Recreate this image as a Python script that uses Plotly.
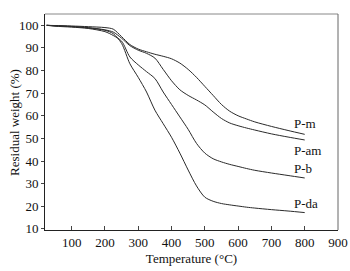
import plotly.graph_objects as go

temps = [25, 50, 100, 150, 200, 225, 250, 275, 300, 325, 350, 375, 400, 425, 450, 475, 500, 525, 550, 575, 600, 625, 650, 700, 750, 800]
p_m  = [100, 99.9, 99.7, 99.4, 99.0, 98.3, 95.0, 91.5, 89.5, 88.3, 87.2, 86.3, 85.2, 83.3, 80.5, 77.0, 73.0, 69.0, 65.0, 62.0, 60.0, 58.6, 57.3, 55.3, 53.5, 51.8]
p_am = [100, 99.8, 99.5, 99.0, 98.0, 97.0, 94.3, 91.0, 89.0, 87.6, 85.5, 80.5, 75.5, 71.5, 69.0, 67.0, 64.8, 61.7, 58.8, 56.8, 55.6, 54.6, 53.7, 52.0, 50.6, 49.3]
p_b  = [100, 99.6, 99.2, 98.6, 97.2, 95.5, 93.0, 86.0, 82.5, 79.5, 76.5, 70.5, 65.0, 59.5, 54.0, 47.8, 43.5, 41.0, 39.6, 38.5, 37.6, 36.7, 35.9, 34.7, 33.6, 32.5]
p_da = [100, 99.8, 99.4, 98.8, 97.8, 96.3, 92.0, 83.0, 77.0, 70.5, 62.5, 56.5, 50.5, 43.5, 36.0, 29.0, 24.0, 22.2, 21.2, 20.6, 20.1, 19.6, 19.2, 18.5, 17.9, 17.2]

series = [("P-m", p_m, 56.7), ("P-am", p_am, 44.7), ("P-b", p_b, 36.6), ("P-da", p_da, 21.2)]
label_x = 761

x_ticks = [100, 200, 300, 400, 500, 600, 700, 800, 900]
y_ticks = [10, 20, 30, 40, 50, 60, 70, 80, 90, 100]

FONT = "Liberation Serif, Times New Roman, serif"

fig = go.Figure()
for name, vals, ly in series:
    fig.add_trace(go.Scatter(x=temps, y=vals, mode="lines", name=name,
                             line=dict(color="#2a2a2a", width=1, shape="spline", smoothing=0.8)))
    fig.add_annotation(x=label_x, y=ly, text=name, showarrow=False, xanchor="left",
                       font=dict(family=FONT, size=13, color="#111"))

fig.add_annotation(xref="paper", yref="paper", x=-0.106, y=0.5, text="Residual weight (%)",
                   textangle=-90, showarrow=False, xanchor="center", yanchor="middle",
                   font=dict(family=FONT, size=13, color="#111"))

fig.update_layout(
    width=350, height=271,
    margin=dict(l=45, r=12, t=14, b=41),
    paper_bgcolor="white", plot_bgcolor="white",
    showlegend=False,
    font=dict(family=FONT, size=13, color="#111"),
)
fig.update_xaxes(range=[20, 900], tickvals=x_ticks, ticks="inside", ticklen=4,
                 showline=True, linecolor="#222", linewidth=1, showgrid=False, zeroline=False,
                 automargin=False, tickfont=dict(size=13),
                 title=dict(text="Temperature (°C)", standoff=5, font=dict(size=13)))
fig.update_yaxes(range=[9.5, 105], tickvals=y_ticks, ticks="outside", ticklen=3,
                 showline=True, linecolor="#222", linewidth=1, showgrid=False, zeroline=False,
                 automargin=False, tickfont=dict(size=13))
fig.add_shape(type="line", xref="paper", yref="paper", x0=0, x1=1, y0=1, y1=1,
              line=dict(color="#888", width=1))
fig.add_shape(type="line", xref="paper", yref="paper", x0=1, x1=1, y0=0, y1=1,
              line=dict(color="#666", width=1))
fig.write_html("out.html", config={"displayModeBar": False},
               post_script="document.body.style.margin='0';document.body.style.overflow='hidden';")
